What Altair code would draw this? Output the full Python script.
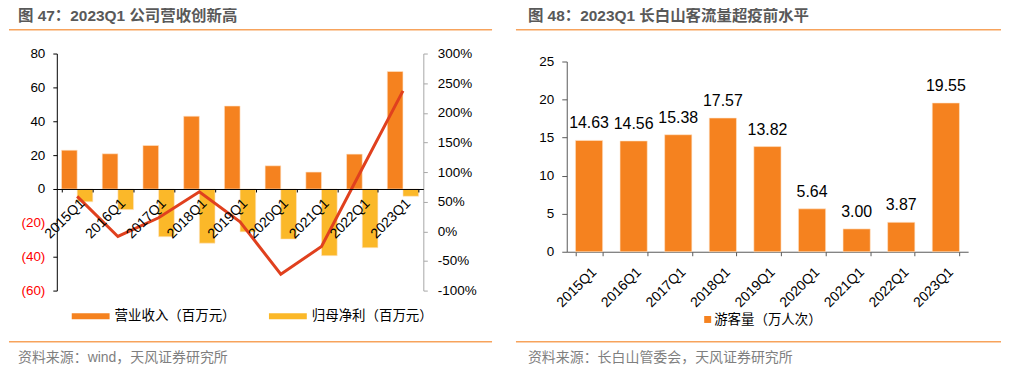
import altair as alt
import pandas as pd

# ---------------- data ----------------
quarters = ["2015Q1", "2016Q1", "2017Q1", "2018Q1", "2019Q1",
            "2020Q1", "2021Q1", "2022Q1", "2023Q1"]
revenue = [22.9, 20.8, 25.7, 43.0, 49.0, 13.7, 10.0, 20.6, 69.4]          # 营业收入（百万元）
net_profit = [-7.6, -12.2, -28.2, -32.0, -25.3, -29.6, -39.4, -34.7, -4.3]  # 归母净利（百万元）
revenue_yoy = [58.9, -8.7, 22.8, 66.8, 16.0, -72.4, -25.6, 106.0, 237.0]   # 营收同比 %
visitors = [14.63, 14.56, 15.38, 17.57, 13.82, 5.64, 3.00, 3.87, 19.55]    # 游客量（万人次）

series_names = ["营业收入（百万元）", "归母净利（百万元）"]
left_title = "图 47：2023Q1 公司营收创新高"
right_title = "图 48：2023Q1 长白山客流量超疫前水平"
left_source = "资料来源：wind，天风证券研究所"
right_source = "资料来源：长白山管委会，天风证券研究所"
visitor_legend = "游客量（万人次）"
left_ticks = [-60, -40, -20, 0, 20, 40, 60, 80]
pct_ticks = [-100, -50, 0, 50, 100, 150, 200, 250, 300]
right_ticks = [0, 5, 10, 15, 20, 25]

# ---------------- style ----------------
ORANGE = "#F5821F"
YELLOW = "#FBB829"
RED = "#E0401E"
RULE_ORANGE = "#F7A35C"
TITLE_GREY = "#595959"
SRC_GREY = "#7F7F7F"
FONT = "Liberation Sans, Noto Sans CJK SC"

bars_df = pd.DataFrame({
    "quarter": quarters * 2,
    "series": [series_names[0]] * len(quarters) + [series_names[1]] * len(quarters),
    "value": revenue + net_profit,
})
line_df = pd.DataFrame({"quarter": quarters, "yoy": revenue_yoy})
vis_df = pd.DataFrame({"quarter": quarters, "visitors": visitors})

LW, LH = 368, 238
RW = 403


def hrule(x1, x2, y, color, width, opacity=1.0):
    return alt.Chart().mark_rule(color=color, strokeWidth=width, opacity=opacity).encode(
        x=alt.value(x1), x2=alt.value(x2), y=alt.value(y))


def label(text, x, y, size, color, weight="normal"):
    return alt.Chart().mark_text(text=text, align="left", baseline="middle", fontSize=size,
                                 color=color, fontWeight=weight, font=FONT).encode(
        x=alt.value(x), y=alt.value(y))


# ---------------- left panel ----------------
x_left = alt.X("quarter:N", sort=quarters, title=None,
               scale=alt.Scale(paddingInner=0.23, paddingOuter=0.115),
               axis=alt.Axis(offset=-102, zindex=1, labelAngle=-45, labelAlign="right",
                             labelBaseline="top", labelPadding=4, tickBand="extent", tickSize=3,
                             domainColor="#000000", tickColor="#000000", labelColor="#000000",
                             labelFontSize=14, labelFont=FONT))

bars = alt.Chart(bars_df).mark_bar(stroke="#FFE6CC", strokeWidth=0.6).encode(
    x=x_left,
    xOffset=alt.XOffset("series:N", sort=series_names,
                        scale=alt.Scale(paddingInner=0, paddingOuter=0)),
    y=alt.Y("value:Q", title=None, scale=alt.Scale(domain=[-60, 80], nice=False),
            axis=alt.Axis(values=left_ticks, grid=False,
                          labelExpr="datum.value < 0 ? '(' + abs(datum.value) + ')' : datum.value + '\u00a0'",
                          labelColor={"condition": {"test": "datum.value < 0", "value": "#FF0000"},
                                      "value": "#000000"},
                          domainColor="#000000", tickColor="#000000", tickSize=4,
                          labelPadding=8, labelFontSize=13.5, labelFont=FONT)),
    color=alt.Color("series:N", scale=alt.Scale(domain=series_names, range=[ORANGE, YELLOW]),
                    legend=None),
)

line = alt.Chart(line_df).mark_line(color=RED, strokeWidth=3).encode(
    x=x_left,
    y=alt.Y("yoy:Q", title=None, scale=alt.Scale(domain=[-100, 300], nice=False),
            axis=alt.Axis(orient="right", values=pct_ticks, grid=False,
                          labelExpr="datum.value + '%'", domainColor="#A6A6A6",
                          tickColor="#A6A6A6", tickSize=4, labelPadding=10,
                          labelFontSize=13.5, labelFont=FONT, labelColor="#000000")),
)

left_decor = [
    hrule(-48, -40, -45, "#FFFFFF", 1, 0.0),            # top-left anchor
    label(left_title, -39, -37.5, 15.5, TITLE_GREY, "bold"),
    hrule(-48, 437, -24, RULE_ORANGE, 1.5),
    hrule(15, 53, 263.7, ORANGE, 6),
    label(series_names[0], 58, 264, 13.5, "#000000"),
    hrule(213, 251, 263.7, YELLOW, 6),
    label(series_names[1], 256, 264, 13.5, "#000000"),
    hrule(-48, 437, 289.3, RULE_ORANGE, 1.5),
    label(left_source, -39, 306, 14, SRC_GREY),
]

left = alt.layer(bars, line, *left_decor).resolve_scale(y="independent").properties(
    width=LW, height=LH)

# ---------------- right panel ----------------
x_right = alt.X("quarter:N", sort=quarters, title=None,
                scale=alt.Scale(paddingInner=0.39, paddingOuter=0.195),
                axis=alt.Axis(offset=-39, labelAngle=-45, labelAlign="right", labelBaseline="top",
                              labelPadding=9, tickBand="extent", tickSize=4,
                              domainColor="#595959", tickColor="#595959", labelColor="#000000",
                              labelFontSize=14, labelFont=FONT))
y_right = alt.Y("visitors:Q", title=None,
                scale=alt.Scale(domain=[0, 25], nice=False, range=[199, 8]),
                axis=alt.Axis(values=right_ticks, grid=False, tickSize=5, labelPadding=8,
                              domainColor="#595959", tickColor="#595959", labelColor="#000000",
                              labelFontSize=13.5, labelFont=FONT))

vbars = alt.Chart(vis_df).mark_bar(color=ORANGE, stroke="#FFE6CC", strokeWidth=0.6).encode(
    x=x_right, y=y_right)
vtext = alt.Chart(vis_df).mark_text(baseline="alphabetic", dy=-12, fontSize=16, font=FONT,
                                    color="#000000").encode(
    x=x_right, y=y_right, text=alt.Text("visitors:Q", format=".2f"))

right_decor = [
    label(right_title, -39, -37.5, 15.5, TITLE_GREY, "bold"),
    hrule(-51, 436, -24, RULE_ORANGE, 1.5),
    alt.Chart().mark_rect(color=ORANGE).encode(
        x=alt.value(138), x2=alt.value(145), y=alt.value(263.5), y2=alt.value(270.5)),
    label(visitor_legend, 148, 267.5, 13.5, "#000000"),
    hrule(-51, 436, 289.3, RULE_ORANGE, 1.5),
    label(right_source, -39, 306, 14, SRC_GREY),
]

right = alt.layer(vbars, vtext, *right_decor).properties(width=RW, height=LH)

chart = alt.hconcat(left, right, spacing=144).properties(
    bounds="flush", padding=0
).configure_view(stroke=None).configure_axis(grid=False)

chart.save("out.html", embed_options={"renderer": "svg", "actions": False})
